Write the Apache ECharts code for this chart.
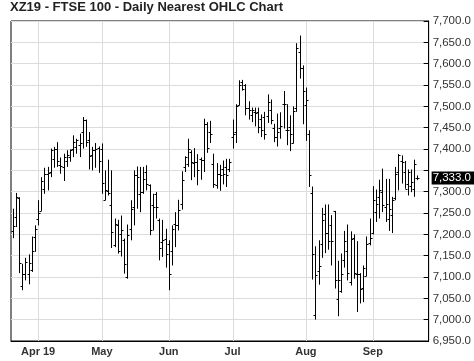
<!DOCTYPE html>
<html>
<head>
<meta charset="utf-8">
<script src="https://cdn.jsdelivr.net/npm/echarts@6/dist/echarts.min.js"></script>
<style>
html,body{margin:0;padding:0;background:#fff;}
#chart{width:474px;height:361px;}
</style>
</head>
<body>
<div id="chart"></div>
<script>
// ---- Data ----
const firstDate = '2019-03-20';
const holidays = ['2019-04-19','2019-04-22','2019-05-06','2019-05-27','2019-08-26'];
const padDates = ['2019-09-23','2019-09-24','2019-09-25'];
const monthLabels = {
  '2019-04-01':'Apr 19','2019-05-01':'May','2019-06-03':'Jun',
  '2019-07-01':'Jul','2019-08-01':'Aug','2019-09-02':'Sep'
};
const yTicks = {min:6950, max:7700, interval:50};
const lastPrice = 7333;

const opens = [7208,7241,7284,7080,7108,7108,7117,7194,7237,7255,7307,7342,7346,7376,7401,7362,7358,7373,7381,7401,
  7405,7409,7440,7467,7420,7385,7397,7403,7401,7281,7301,7268,7174,7221,7200,7186,7100,7213,7264,7338,
  7295,7299,7346,7315,7268,7295,7234,7182,7190,7177,7162,7225,7222,7272,7358,7366,7393,7367,7370,7377,
  7375,7458,7440,7366,7315,7342,7354,7358,7354,7428,7440,7502,7557,7549,7495,7479,7487,7487,7471,7475,
  7477,7491,7450,7428,7450,7506,7445,7452,7414,7497,7627,7591,7502,7434,7297,7010,7114,7177,7247,7202,
  7223,7255,7049,7067,7141,7161,7088,7192,7108,7108,7075,7102,7180,7202,7252,7288,7299,7263,7237,7245,
  7284,7346,7373,7346,7319,7313,7307,7333];
const highs = [7260,7297,7287,7131,7145,7153,7195,7221,7280,7334,7356,7358,7401,7405,7416,7380,7389,7397,7399,7432,
  7424,7436,7475,7469,7440,7405,7414,7406,7413,7350,7375,7350,7237,7234,7244,7190,7223,7280,7350,7359,
  7358,7358,7362,7317,7295,7299,7237,7234,7213,7186,7221,7252,7281,7348,7383,7424,7397,7402,7388,7380,
  7471,7463,7466,7389,7367,7363,7373,7377,7377,7469,7505,7561,7562,7552,7512,7497,7497,7497,7481,7487,
  7528,7516,7459,7483,7486,7536,7505,7479,7500,7648,7666,7596,7544,7444,7312,7172,7186,7262,7270,7270,
  7245,7255,7138,7155,7208,7223,7207,7200,7184,7109,7127,7195,7237,7313,7305,7328,7354,7330,7330,7288,
  7358,7388,7385,7372,7352,7352,7375,7338];
const lows = [7191,7217,7109,7069,7092,7083,7112,7159,7221,7255,7295,7303,7334,7356,7358,7342,7325,7358,7370,7381,
  7389,7381,7401,7405,7352,7350,7356,7344,7295,7280,7291,7168,7170,7155,7148,7108,7096,7186,7221,7260,
  7252,7295,7303,7198,7209,7237,7139,7147,7122,7069,7127,7170,7209,7258,7346,7358,7327,7334,7315,7328,
  7346,7391,7414,7309,7307,7302,7317,7311,7346,7401,7414,7502,7537,7479,7469,7463,7453,7437,7428,7422,
  7461,7458,7416,7406,7424,7448,7409,7395,7413,7487,7565,7458,7419,7311,7094,7000,7082,7145,7156,7164,
  7127,7073,7008,7063,7122,7092,7080,7096,7018,7038,7041,7102,7174,7200,7229,7237,7252,7229,7208,7203,
  7280,7303,7319,7307,7291,7299,7288,7327];
const closes = [7220,7287,7132,7108,7135,7132,7162,7213,7249,7325,7342,7344,7397,7401,7373,7359,7381,7385,7397,7416,
  7420,7414,7467,7416,7383,7397,7401,7373,7320,7303,7297,7206,7225,7160,7210,7131,7198,7260,7338,7334,
  7299,7330,7319,7209,7264,7264,7167,7186,7155,7108,7213,7221,7258,7327,7381,7401,7370,7370,7350,7375,
  7458,7403,7436,7319,7342,7340,7341,7338,7370,7436,7500,7549,7541,7495,7492,7491,7484,7452,7445,7436,
  7510,7467,7428,7440,7455,7505,7445,7436,7489,7637,7591,7537,7514,7338,7153,7104,7125,7233,7203,7184,
  7184,7094,7092,7108,7184,7109,7188,7109,7106,7073,7120,7178,7192,7281,7272,7303,7268,7272,7260,7280,
  7341,7385,7370,7307,7346,7323,7366,7333];

// ---- Trading-day categories ----
function buildDates(start, count) {
  const out = [];
  const d = new Date(start + 'T00:00:00Z');
  while (out.length < count) {
    const wd = d.getUTCDay();
    const s = d.toISOString().slice(0, 10);
    if (wd !== 0 && wd !== 6 && holidays.indexOf(s) < 0) out.push(s);
    d.setUTCDate(d.getUTCDate() + 1);
  }
  return out;
}
const tradeDates = buildDates(firstDate, opens.length);
const categories = tradeDates.concat(padDates);
const ohlc = opens.map((o, i) => [i, o, highs[i], lows[i], closes[i]]);
const monthIdx = Object.keys(monthLabels).map(d => [categories.indexOf(d)]);

function fmt(v) {
  return v.toLocaleString('en-US', {minimumFractionDigits: 1, maximumFractionDigits: 1});
}

const chart = echarts.init(document.getElementById('chart'), null, {renderer: 'canvas'});
const FONT = 'Liberation Sans, Arial, sans-serif';

chart.setOption({
  animation: false,
  backgroundColor: '#fff',
  textStyle: {fontFamily: FONT},
  title: {
    text: 'XZ19 - FTSE 100 - Daily Nearest OHLC Chart',
    left: 10, top: 1, padding: 0,
    textStyle: {fontSize: 13, fontWeight: 'bold', color: '#222', fontFamily: FONT}
  },
  grid: {
    left: 11, right: 42, top: 21, bottom: 20,
    show: true, borderColor: '#000', borderWidth: 1, backgroundColor: 'transparent'
  },
  xAxis: {
    type: 'category',
    data: categories,
    boundaryGap: true,
    axisLine: {show: true, lineStyle: {color: '#000', width: 1}},
    axisTick: {show: false},
    splitLine: {show: false},
    axisLabel: {
      interval: (idx, val) => !!monthLabels[val],
      formatter: val => monthLabels[val] || '',
      fontSize: 11, fontWeight: 'bold', color: '#333', margin: 5, fontFamily: FONT
    }
  },
  yAxis: {
    type: 'value',
    position: 'right',
    min: yTicks.min, max: yTicks.max, interval: yTicks.interval,
    axisLine: {show: true, lineStyle: {color: '#000', width: 1}},
    axisTick: {show: true, inside: true, length: 5, lineStyle: {color: '#000'}},
    splitLine: {show: true, lineStyle: {color: '#dcdcdc', width: 1}},
    axisLabel: {
      formatter: v => (Math.abs(v - lastPrice) < 25 ? '' : fmt(v)),
      fontSize: 11.5, color: '#333', margin: 4, fontFamily: FONT
    }
  },
  series: [
    {
      // month grid lines
      type: 'custom', z: 1, silent: true,
      data: monthIdx,
      encode: {x: 0},
      renderItem: function (params, api) {
        const cs = params.coordSys;
        const x = Math.round(api.coord([api.value(0), yTicks.min])[0]) + 0.5;
        return {
          type: 'line',
          shape: {x1: x, y1: cs.y, x2: x, y2: cs.y + cs.height},
          style: {stroke: '#dcdcdc', lineWidth: 1}
        };
      }
    },
    {
      type: 'custom', z: 3, silent: true,
      data: ohlc,
      encode: {x: 0, y: [1, 2, 3, 4]},
      renderItem: function (params, api) {
        const i = api.value(0);
        const o = api.coord([i, api.value(1)]);
        const h = api.coord([i, api.value(2)]);
        const l = api.coord([i, api.value(3)]);
        const c = api.coord([i, api.value(4)]);
        const cx = Math.round(o[0]) + 0.5;
        const oy = Math.round(o[1]) + 0.5;
        const cy = Math.round(c[1]) + 0.5;
        const st = {stroke: '#000', lineWidth: 1};
        return {
          type: 'group',
          children: [
            {type: 'line', shape: {x1: cx, y1: h[1], x2: cx, y2: l[1]}, style: st},
            {type: 'line', shape: {x1: cx - 2, y1: oy, x2: cx, y2: oy}, style: st},
            {type: 'line', shape: {x1: cx, y1: cy, x2: cx + 2, y2: cy}, style: st}
          ]
        };
      }
    },
    {
      // last-price box on the value axis
      type: 'custom', z: 10, silent: true, clip: false,
      data: [[opens.length - 1, lastPrice]],
      encode: {x: 0, y: 1},
      renderItem: function (params, api) {
        const cs = params.coordSys;
        const y = api.coord([api.value(0), api.value(1)])[1];
        return {
          type: 'text',
          x: cs.x + cs.width + 3,
          y: Math.round(y),
          style: {
            text: fmt(api.value(1)),
            fill: '#fff',
            backgroundColor: '#000',
            padding: [1, 3, 0, 1],
            font: '11.5px ' + FONT,
            verticalAlign: 'middle',
            align: 'left'
          }
        };
      }
    }
  ]
});
</script>
</body>
</html>
